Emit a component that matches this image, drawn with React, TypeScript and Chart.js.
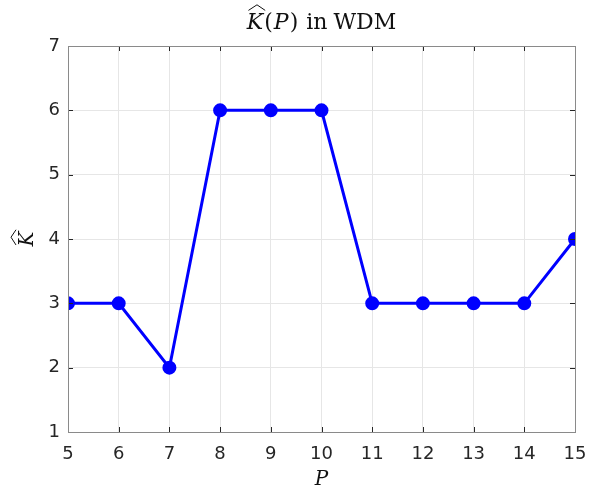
import React, { useEffect, useRef } from "react";
import { Chart, registerables } from "chart.js";

Chart.register(...registerables);

const xValues = [5, 6, 7, 8, 9, 10, 11, 12, 13, 14, 15];
const kHat = [3, 3, 2, 6, 6, 6, 3, 3, 3, 3, 4];

const SERIF = '"DejaVu Serif", "Liberation Serif", serif';
const SANS = '"DejaVu Sans", "Liberation Sans", sans-serif';

type Piece = { t: string; italic: boolean; hat?: boolean; gap?: number };

function drawPieces(ctx: CanvasRenderingContext2D, pieces: Piece[], size: number, cx: number, baseline: number) {
  const widths = pieces.map((p) => {
    ctx.font = `${p.italic ? "italic " : ""}${size}px ${SERIF}`;
    return ctx.measureText(p.t).width + (p.gap || 0);
  });
  const total = widths.reduce((a, b) => a + b, 0);
  let x = cx - total / 2;
  pieces.forEach((p, i) => {
    ctx.font = `${p.italic ? "italic " : ""}${size}px ${SERIF}`;
    ctx.fillText(p.t, x, baseline);
    if (p.hat) {
      const w = widths[i] - (p.gap || 0);
      const top = baseline - size * 0.8;
      ctx.save();
      ctx.lineWidth = 1;
      ctx.beginPath();
      ctx.moveTo(x + w * 0.1, top - 1);
      ctx.lineTo(x + w * 0.62, top - size * 0.3);
      ctx.lineTo(x + w * 1.12, top - 1);
      ctx.stroke();
      ctx.restore();
    }
    x += widths[i];
  });
}

const labelsPlugin = {
  id: "labelsPlugin",
  afterDraw(chart: any) {
    const ctx = chart.ctx as CanvasRenderingContext2D;
    const a = chart.chartArea;
    const xs = chart.scales.x;
    const ys = chart.scales.y;
    ctx.save();
    ctx.strokeStyle = "#262626";
    ctx.lineWidth = 1;
    ctx.beginPath();
    xs.ticks.forEach((t: any) => {
      const px = Math.round(xs.getPixelForValue(t.value)) + 0.5;
      ctx.moveTo(px, a.bottom);
      ctx.lineTo(px, a.bottom - 5);
      ctx.moveTo(px, a.top);
      ctx.lineTo(px, a.top + 5);
    });
    ys.ticks.forEach((t: any) => {
      const py = Math.round(ys.getPixelForValue(t.value)) + 0.5;
      ctx.moveTo(a.left, py);
      ctx.lineTo(a.left + 5, py);
      ctx.moveTo(a.right, py);
      ctx.lineTo(a.right - 5, py);
    });
    ctx.stroke();
    ctx.strokeStyle = "#8a8a8a";
    ctx.strokeRect(Math.round(a.left) + 0.5, Math.round(a.top) + 0.5, Math.round(a.right - a.left), Math.round(a.bottom - a.top));

    ctx.fillStyle = "#111";
    ctx.strokeStyle = "#111";
    ctx.textAlign = "left";
    ctx.textBaseline = "alphabetic";
    drawPieces(
      ctx,
      [
        { t: "K", italic: true, hat: true, gap: 1 },
        { t: "(", italic: false, gap: 1 },
        { t: "P", italic: true, gap: 1 },
        { t: ")", italic: false, gap: 8 },
        { t: "in", italic: false, gap: 6 },
        { t: "WDM", italic: false },
      ],
      22,
      (a.left + a.right) / 2,
      29
    );
    drawPieces(ctx, [{ t: "P", italic: true }], 20, (a.left + a.right) / 2, 485);
    ctx.save();
    ctx.translate(33, (a.top + a.bottom) / 2);
    ctx.rotate(-Math.PI / 2);
    drawPieces(ctx, [{ t: "K", italic: true, hat: true }], 20, 0, 0);
    ctx.restore();
    ctx.restore();
  },
};

export default function App() {
  const ref = useRef<HTMLCanvasElement>(null);
  useEffect(() => {
    if (!ref.current) return;
    const chart = new Chart(ref.current, {
      type: "line",
      data: {
        datasets: [
          {
            data: xValues.map((x, i) => ({ x, y: kHat[i] })),
            borderColor: "#0000ff",
            backgroundColor: "#0000ff",
            borderWidth: 3,
            pointRadius: 5.5,
            pointHoverRadius: 5.5,
            pointBackgroundColor: "#0000ff",
            pointBorderColor: "#0000ff",
            tension: 0,
          },
        ],
      },
      options: {
        responsive: false,
        animation: false,
        events: [],
        layout: { padding: { top: 46, right: 15, left: 0, bottom: 0 } },
        plugins: { legend: { display: false }, tooltip: { enabled: false }, title: { display: false } },
        scales: {
          x: {
            type: "linear",
            min: 5,
            max: 15,
            border: { display: false },
            grid: { color: "#e6e6e6", drawTicks: false, tickLength: 0 },
            ticks: { stepSize: 1, color: "#262626", font: { family: SANS, size: 18 }, padding: 12 },
            afterFit: (s: any) => {
              s.height = 56;
              s.paddingRight = 0;
              s.paddingLeft = 0;
            },
          },
          y: {
            min: 1,
            max: 7,
            border: { display: false },
            grid: { color: "#e6e6e6", drawTicks: false, tickLength: 0 },
            ticks: { stepSize: 1, color: "#262626", font: { family: SANS, size: 18 }, padding: 8 },
            afterFit: (s: any) => {
              s.width = 68;
              s.paddingTop = 0;
              s.paddingBottom = 0;
            },
          },
        },
      },
      plugins: [labelsPlugin],
    } as any);
    return () => chart.destroy();
  }, []);
  return (
    <div style={{ position: "absolute", left: 0, top: 0, width: 590, height: 488, background: "#fff" }}>
      <canvas ref={ref} width={590} height={488} style={{ width: 590, height: 488 }} />
    </div>
  );
}
